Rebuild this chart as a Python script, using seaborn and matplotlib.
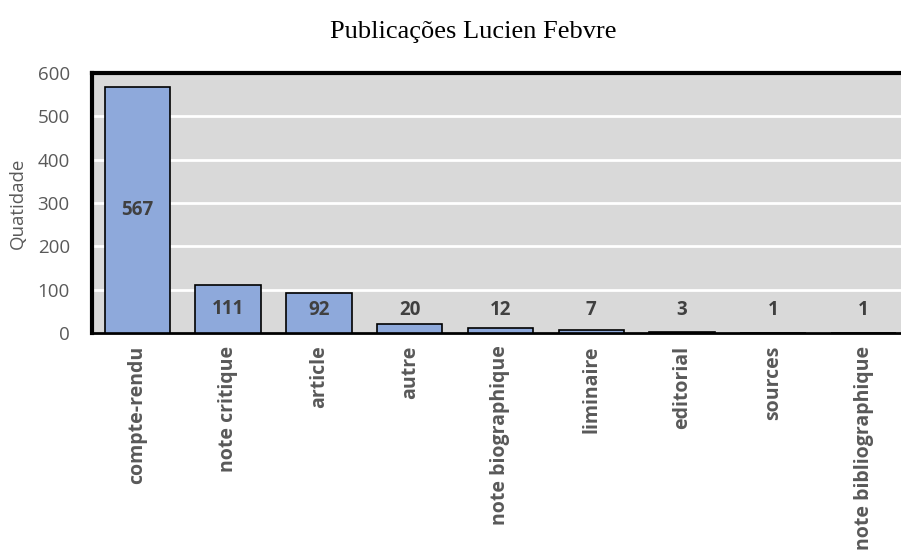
import matplotlib
matplotlib.use("Agg")
import matplotlib.pyplot as plt
import seaborn as sns
import pandas as pd

categories = ["compte-rendu", "note critique", "article", "autre", "note biographique",
              "liminaire", "editorial", "sources", "note bibliographique"]
values = [567, 111, 92, 20, 12, 7, 3, 1, 1]
yticks = [0, 100, 200, 300, 400, 500, 600]
title = "Publicações Lucien Febvre"
ylabel = "Quatidade"

sns.set_theme(style="white")
plt.rcParams['font.family'] = ['Open Sans', 'DejaVu Sans']

df = pd.DataFrame({"cat": categories, "val": values})

fig = plt.figure(figsize=(9.01, 5.52), dpi=100)
ax = fig.add_axes([92/901, 1-333/552, (909-92)/901, (333-73)/552])
ax.set_facecolor("#D9D9D9")

sns.barplot(data=df, x="cat", y="val", color="#8EA9DB", edgecolor="black",
            linewidth=1.2, width=0.72, saturation=1, ax=ax, zorder=3)

ax.set_ylim(0, 600)
ax.set_xlim(-0.5, len(categories) - 0.5)
ax.set_yticks(yticks)
ax.yaxis.grid(True, color="white", linewidth=2, zorder=0)
ax.set_axisbelow(True)
ax.tick_params(axis="y", labelsize=13.5, colors="#595959", length=0, pad=16)
ax.tick_params(axis="x", labelsize=14, colors="#595959", length=0, pad=9)
for lbl in ax.get_xticklabels():
    lbl.set_rotation(90)
    lbl.set_fontweight("bold")
    lbl.set_va("top")

for side in ["left", "top"]:
    ax.spines[side].set_visible(True)
    ax.spines[side].set_color("black")
    ax.spines[side].set_linewidth(3)
ax.spines["bottom"].set_color("black")
ax.spines["bottom"].set_linewidth(2)
ax.spines["right"].set_visible(False)

for i, v in enumerate(values):
    ax.text(i, max(v / 2, 52), str(v), ha="center", va="center",
            fontsize=13.5, fontweight="bold", color="#404040", zorder=5)

ax.set_xlabel("")
ax.set_ylabel(ylabel, fontsize=13.5, color="#595959", labelpad=8)
fig.text(473/901, 1-32/552, title, ha="center", va="center", fontsize=19,
         family=["Liberation Serif"], color="black")

fig.savefig("out.png", dpi=100)
